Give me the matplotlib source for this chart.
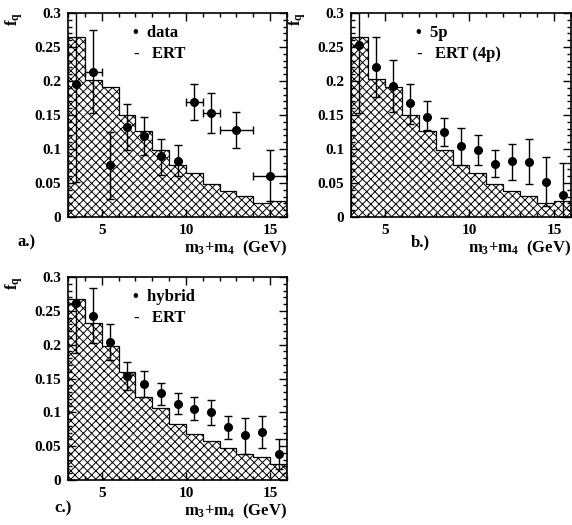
import matplotlib
matplotlib.use("Agg")
import matplotlib.pyplot as plt
from matplotlib.ticker import MultipleLocator, FixedLocator, FuncFormatter

plt.rcParams["font.family"] = ["Liberation Serif", "DejaVu Serif"]
plt.rcParams["font.weight"] = "bold"
plt.rcParams["mathtext.fontset"] = "custom"
plt.rcParams["mathtext.bf"] = "Liberation Serif:bold"
plt.rcParams["mathtext.rm"] = "Liberation Serif:bold"
plt.rcParams["mathtext.it"] = "Liberation Serif:bold"
plt.rcParams["mathtext.default"] = "bf"
plt.rcParams["hatch.linewidth"] = 0.7

W, H = 572, 525

# ── data ─────────────────────────────────────────────────────────
bin_edges = [3, 4, 5, 6, 7, 8, 9, 10, 11, 12, 13, 14, 15, 16]

ert_a = [0.265, 0.202, 0.191, 0.150, 0.127, 0.098, 0.077, 0.065, 0.049, 0.038, 0.031, 0.021, 0.023]
ert_b = [0.265, 0.203, 0.191, 0.150, 0.127, 0.099, 0.077, 0.065, 0.049, 0.038, 0.031, 0.021, 0.023]
ert_c = [0.267, 0.232, 0.198, 0.160, 0.122, 0.106, 0.083, 0.068, 0.058, 0.048, 0.039, 0.034, 0.024]

x_a = [3.5, 4.5, 5.5, 6.5, 7.5, 8.5, 9.5, 10.5, 11.5, 13, 15]
y_a = [0.195, 0.213, 0.076, 0.132, 0.119, 0.089, 0.082, 0.169, 0.153, 0.128, 0.061]
hi_a = [0.35, 0.275, 0.125, 0.166, 0.147, 0.114, 0.106, 0.196, 0.182, 0.155, 0.098]
lo_a = [0.052, 0.153, 0.027, 0.098, 0.091, 0.062, 0.060, 0.142, 0.124, 0.102, 0.023]
xerr_a = [0, 0.5, 0, 0, 0, 0, 0, 0.5, 0.5, 1, 1]

x_b = [3.5, 4.5, 5.5, 6.5, 7.5, 8.5, 9.5, 10.5, 11.5, 12.5, 13.5, 14.5, 15.5]
y_b = [0.253, 0.220, 0.193, 0.167, 0.147, 0.125, 0.104, 0.099, 0.078, 0.082, 0.081, 0.051, 0.033]
hi_b = [0.35, 0.265, 0.231, 0.195, 0.170, 0.146, 0.131, 0.120, 0.098, 0.108, 0.114, 0.088, 0.079]
lo_b = [0.153, 0.176, 0.155, 0.137, 0.128, 0.105, 0.077, 0.077, 0.059, 0.055, 0.048, 0.016, 0.0]

x_c = [3.5, 4.5, 5.5, 6.5, 7.5, 8.5, 9.5, 10.5, 11.5, 12.5, 13.5, 14.5, 15.5]
y_c = [0.262, 0.243, 0.204, 0.154, 0.142, 0.128, 0.112, 0.105, 0.100, 0.078, 0.066, 0.071, 0.038]
hi_c = [0.35, 0.284, 0.230, 0.174, 0.161, 0.144, 0.128, 0.122, 0.118, 0.095, 0.092, 0.094, 0.060]
lo_c = [0.187, 0.203, 0.178, 0.133, 0.123, 0.111, 0.097, 0.0885, 0.082, 0.060, 0.039, 0.047, 0.016]

y_ticks = [0, 0.05, 0.1, 0.15, 0.2, 0.25, 0.3]
x_ticks = [5, 10, 15]

panels = [
    # (axes box in px: left, top, right, bottom), hist, x, y, hi, lo, xerr, legend, letter, letter pos
    ((68, 13, 287, 217), ert_a, x_a, y_a, hi_a, lo_a, xerr_a, ("data", "ERT"), "a.)", (18, 242)),
    ((351, 13, 571, 217), ert_b, x_b, y_b, hi_b, lo_b, None, ("5p", "ERT (4p)"), "b.)", (411, 242)),
    ((68, 277, 287, 480), ert_c, x_c, y_c, hi_c, lo_c, None, ("hybrid", "ERT"), "c.)", (54, 508)),
]

fig = plt.figure(figsize=(W / 100, H / 100), dpi=100)

for box, ert, xs, ys, his, los, xerr, leg, letter, lpos in panels:
    l, t, r, b = box
    ax = fig.add_axes([l / W, 1 - b / H, (r - l) / W, (b - t) / H])

    ax.stairs(ert, bin_edges, fill=True, hatch="xxxx", facecolor="white",
              edgecolor="black", linewidth=0.9)

    yerr = [[y - lo for y, lo in zip(ys, los)], [hi - y for y, hi in zip(ys, his)]]
    ax.errorbar(xs, ys, yerr=yerr, xerr=xerr, fmt="o", color="black",
                markersize=5.5, elinewidth=1.0, capsize=3, capthick=1.0)

    ax.set_xlim(3, 16)
    ax.set_ylim(0, 0.3)
    ax.xaxis.set_major_locator(FixedLocator(x_ticks))
    ax.xaxis.set_minor_locator(MultipleLocator(1))
    ax.yaxis.set_major_locator(FixedLocator(y_ticks))
    ax.yaxis.set_minor_locator(MultipleLocator(0.01))
    ax.yaxis.set_major_formatter(FuncFormatter(lambda v, p: f"{v:g}"))
    ax.tick_params(which="both", direction="in", top=True, right=True,
                   labelsize=11, width=1)
    ax.tick_params(which="major", length=6, pad=5)
    ax.tick_params(which="minor", length=3)
    for s in ax.spines.values():
        s.set_linewidth(1.2)
    for lab in ax.get_xticklabels() + ax.get_yticklabels():
        lab.set_fontweight("bold")

    # legend-like labels
    fig.text((l + 65) / W, 1 - (t + 20) / H, "\u2022  " + leg[0],
             fontsize=12, fontweight="bold", va="center", ha="left")
    fig.text((l + 66) / W, 1 - (t + 41) / H, "-   " + leg[1],
             fontsize=12, fontweight="bold", va="center", ha="left")

    # axis labels
    fig.text((l - 54) / W, 1 - (t - 1) / H, "f$_q$", rotation=90,
             fontsize=12, fontweight="bold", ha="center", va="top")
    fig.text(r / W, 1 - (b + 31) / H, "m$_3$+m$_4$  (GeV)",
             fontsize=12, fontweight="bold", ha="right", va="center")
    fig.text(lpos[0] / W, 1 - lpos[1] / H, letter,
             fontsize=12, fontweight="bold", ha="left", va="center")

fig.savefig("out.png", dpi=100, facecolor="white")
